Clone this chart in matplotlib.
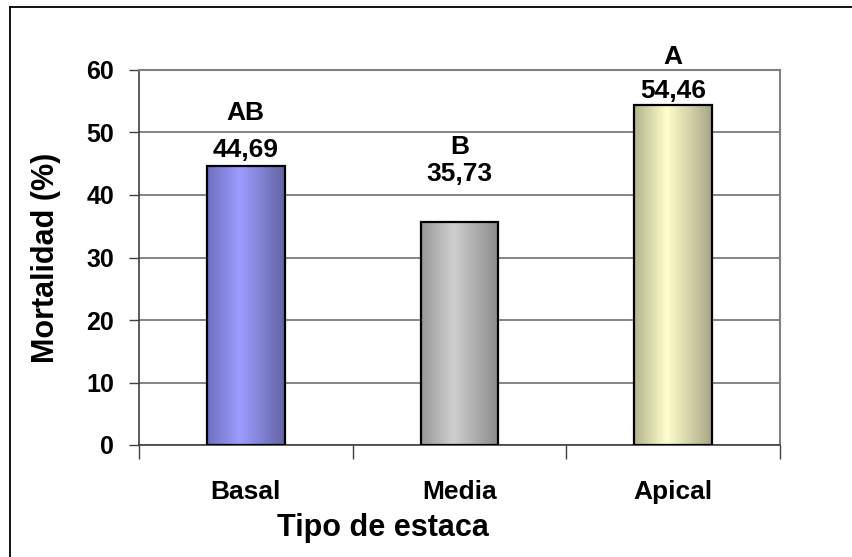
import numpy as np
import matplotlib
matplotlib.use("Agg")
import matplotlib.pyplot as plt
from matplotlib.colors import LinearSegmentedColormap
from matplotlib.lines import Line2D

# data
categories = ["Basal", "Media", "Apical"]
mortality = [44.69, 35.73, 54.46]
letters = ["AB", "B", "A"]
value_labels = ["44,69", "35,73", "54,46"]

# gradient colours for each bar (left edge, light centre, right edge)
bar_colors = [
    ["#6f6fc0", "#9c9cff", "#6464a4"],
    ["#989898", "#cfcfcf", "#8a8a8a"],
    ["#b2b28e", "#ffffcc", "#a8a686"],
]
# label offsets above each bar top, in points (value, letter)
label_offsets = [(6.5, 33), (29, 49), (5, 29)]

plt.rcParams["font.family"] = ["Liberation Sans", "DejaVu Sans"]
plt.rcParams["font.weight"] = "bold"

fig = plt.figure(figsize=(8.53, 5.57), dpi=100)
ax = fig.add_axes([139 / 853, 112 / 557, 641 / 853, 375 / 557])

x = np.arange(len(categories))
width = 0.365
bars = ax.bar(x, mortality, width, color="none", edgecolor="black", linewidth=1.6, zorder=3)

# horizontal gradient inside each bar
for b, cols in zip(bars, bar_colors):
    cmap = LinearSegmentedColormap.from_list("g", [(0, cols[0]), (0.42, cols[1]), (1, cols[2])])
    grad = np.linspace(0, 1, 256).reshape(1, -1)
    x0, y0 = b.get_x(), b.get_y()
    im = ax.imshow(grad, cmap=cmap, aspect="auto", extent=[x0, x0 + b.get_width(), y0, y0 + b.get_height()],
                   zorder=2, interpolation="bicubic")
    im.set_clip_path(b)

for b, v, let, lab, (o1, o2) in zip(bars, mortality, letters, value_labels, label_offsets):
    cx = b.get_x() + b.get_width() / 2
    ax.annotate(lab, (cx, v), xytext=(0, o1), textcoords="offset points",
                ha="center", va="baseline", fontsize=19, fontweight="bold")
    ax.annotate(let, (cx, v), xytext=(0, o2), textcoords="offset points",
                ha="center", va="baseline", fontsize=19, fontweight="bold")

ax.set_xlim(-0.5, 2.5)
ax.set_ylim(0, 60)
ax.set_yticks(np.arange(0, 61, 10))
ax.yaxis.grid(True, color="#707070", linewidth=1.2, zorder=0)
ax.set_axisbelow(True)

ax.set_xticks(x)
ax.set_xticklabels(categories, fontsize=19, fontweight="bold")
ax.set_xticks([-0.5, 0.5, 1.5, 2.5], minor=True)
ax.tick_params(axis="x", which="major", length=0, pad=25)
ax.tick_params(axis="x", which="minor", length=10, width=1, color="#404040", direction="out")
ax.tick_params(axis="y", length=7, width=1, color="#404040", labelsize=18, pad=11)
for t in ax.get_yticklabels():
    t.set_fontweight("bold")

for s in ["top", "right"]:
    ax.spines[s].set_color("#808080")
    ax.spines[s].set_linewidth(1.5)
for s in ["left", "bottom"]:
    ax.spines[s].set_color("#404040")
    ax.spines[s].set_linewidth(1.2)

ax.set_ylabel("Mortalidad (%)", fontsize=22, fontweight="bold", labelpad=18)
ax.set_xlabel("Tipo de estaca", fontsize=22, fontweight="bold", va="center")
# the x title sits left of the plot centre in the original
ax.xaxis.set_label_coords(244 / 641, -83 / 375)

# outer chart border
fig.add_artist(Line2D([10.5 / 853, 10.5 / 853], [0, 1 - 6.5 / 557], color="black", linewidth=1.3))
fig.add_artist(Line2D([10.5 / 853, 1], [1 - 6.5 / 557, 1 - 6.5 / 557], color="black", linewidth=1.3))

fig.savefig("out.png", dpi=100)
